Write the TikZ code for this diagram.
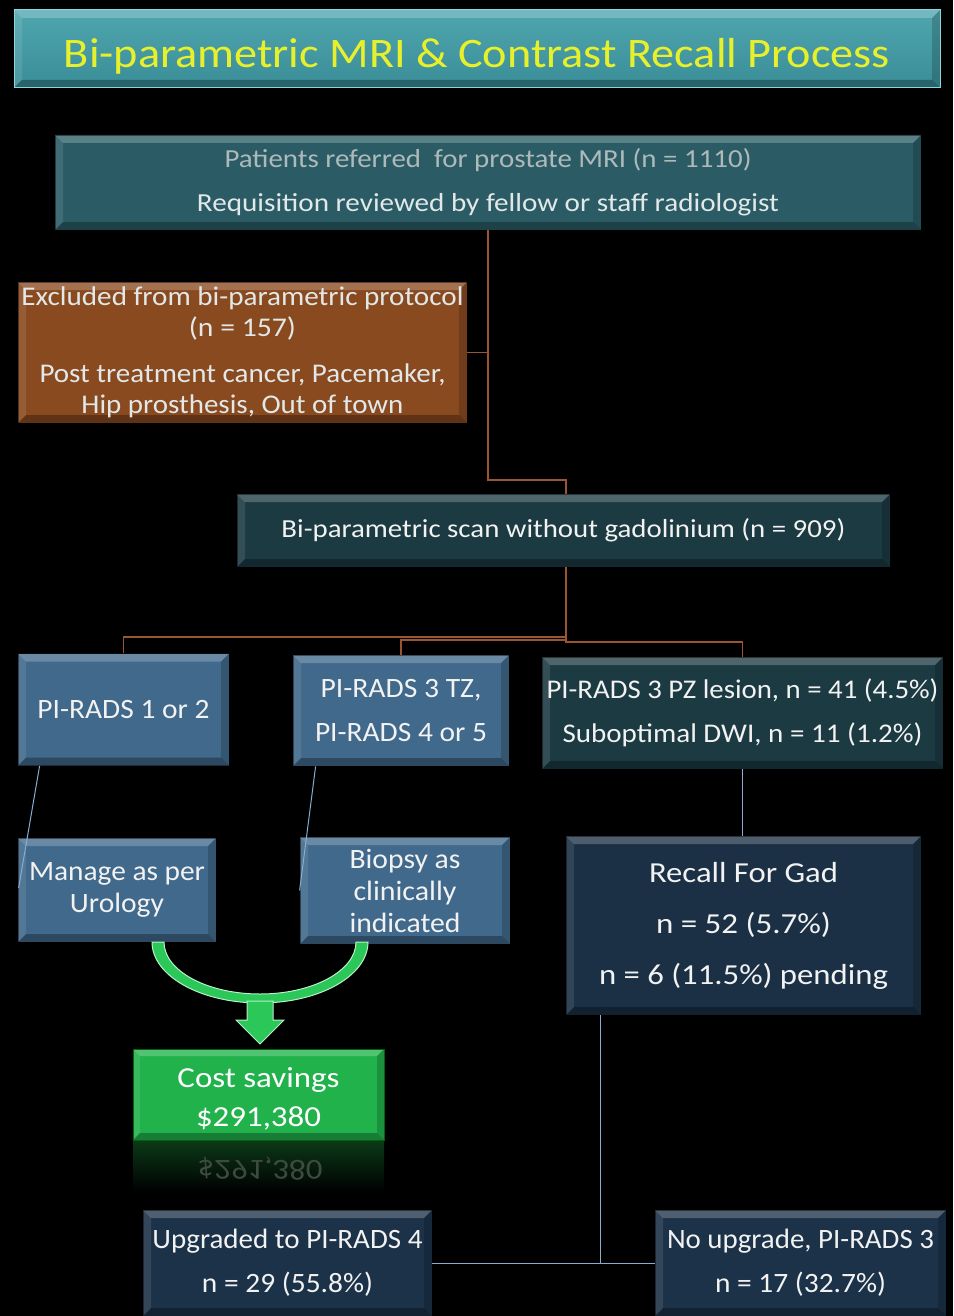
\documentclass[tikz,border=0pt]{standalone}
\usepackage{fontspec}
\usepackage{graphicx}
\setmainfont{Carlito}
\usetikzlibrary{calc}
\definecolor{titc}{HTML}{3A8D96}
\definecolor{titt}{HTML}{4FA6AF}
\definecolor{titb}{HTML}{8CD6DE}
\definecolor{ylw}{HTML}{E8F02C}
\definecolor{topc}{HTML}{2B5C66}
\definecolor{exclc}{HTML}{8A4A20}
\definecolor{bipc}{HTML}{1C3A42}
\definecolor{bluec}{HTML}{40698B}
\definecolor{recc}{HTML}{1B3045}
\definecolor{botc}{HTML}{1C3248}
\definecolor{oline}{HTML}{9B5530}
\definecolor{bline}{HTML}{86ADD2}
\definecolor{greenbox}{HTML}{22B24C}
\definecolor{greenarr}{HTML}{2BC758}
\definecolor{greenedge}{HTML}{B6F2C6}
\definecolor{txt}{HTML}{F2F2F2}
\definecolor{greyA}{HTML}{AEB9BA}
\definecolor{greyB}{HTML}{E2E8E8}
\definecolor{refc}{HTML}{3E4A40}
\definecolor{refg}{HTML}{0B3A18}
\newcommand\fitw[2]{\resizebox{#1pt}{\height}{#2}}
\tikzset{
  bevel/.style={path picture={
    \fill[white,opacity=.22] (path picture bounding box.north west) -- (path picture bounding box.north east) -- ([shift={(-#1,-#1)}]path picture bounding box.north east) -- ([shift={(#1,-#1)}]path picture bounding box.north west) -- cycle;
    \fill[white,opacity=.10] (path picture bounding box.north west) -- ([shift={(#1,-#1)}]path picture bounding box.north west) -- ([shift={(#1,#1)}]path picture bounding box.south west) -- (path picture bounding box.south west) -- cycle;
    \fill[black,opacity=.30] (path picture bounding box.south west) -- ([shift={(#1,#1)}]path picture bounding box.south west) -- ([shift={(-#1,#1)}]path picture bounding box.south east) -- (path picture bounding box.south east) -- cycle;
    \fill[black,opacity=.18] (path picture bounding box.south east) -- ([shift={(-#1,#1)}]path picture bounding box.south east) -- ([shift={(-#1,-#1)}]path picture bounding box.north east) -- (path picture bounding box.north east) -- cycle;
  }},
  bevel/.default=8pt,
  box/.style={rectangle, inner sep=0pt, align=center, text=txt, bevel, draw=black, draw opacity=.45, line width=.8pt},
  olink/.style={draw=oline, line width=1.2pt},
  blink/.style={draw=bline, line width=1pt},
  f25/.style={font=\fontsize{26}{44}\selectfont},
  f26/.style={font=\fontsize{27}{31}\selectfont},
  f27/.style={font=\fontsize{28}{44}\selectfont},
}
\begin{document}
\begin{tikzpicture}[x=1pt,y=-1pt]
\fill[black] (0,0) rectangle (953,1316);
\useasboundingbox (0,0) rectangle (953,1316);

% title
\node[box, top color=titt, bottom color=titc, draw=titb, draw opacity=1, line width=1pt,
  minimum width=926pt, minimum height=78pt, text=ylw, font=\fontsize{42}{48}\selectfont,
  text height=38pt, text depth=0pt]
  (title) at (477,49) {\fitw{826}{Bi-parametric MRI \& Contrast Recall Process}};

% top box
\node[box, fill=topc, minimum width=866pt, minimum height=95pt, f25]
  (top) at (488,182.5) {\textcolor{greyA}{\fitw{527}{Patients referred\ \ for prostate MRI (n = 1110)}}\\
  \textcolor{greyB}{\fitw{582}{Requisition reviewed by fellow or staff radiologist}}};

% excluded
\node[box, fill=exclc, minimum width=449pt, minimum height=141pt, f26, text=greyB]
  (excl) at (242.5,352.5) {\fitw{442}{Excluded from bi-parametric protocol}\\
  \fitw{107}{(n = 157)}\\[15pt]
  \fitw{406}{Post treatment cancer, Pacemaker,}\\
  \fitw{322}{Hip prosthesis, Out of town}};

% bi-parametric
\node[box, fill=bipc, minimum width=653pt, minimum height=73pt, f25]
  (bip) at (563.5,530.5) {\fitw{564}{Bi-parametric scan without gadolinium (n = 909)}};

% second row
\node[box, fill=bluec, minimum width=211pt, minimum height=112pt, f27]
  (pr12) at (123.5,709.5) {\fitw{172}{PI-RADS 1 or 2}};
\node[box, fill=bluec, minimum width=216pt, minimum height=111pt, f27]
  (pr3tz) at (401,710.5) {\fitw{161}{PI-RADS 3 TZ,}\\\fitw{172}{PI-RADS 4 or 5}};
\node[box, fill=bipc, minimum width=401pt, minimum height=112pt, font=\fontsize{27}{44}\selectfont]
  (pz) at (742.5,713) {\fitw{392}{PI-RADS 3 PZ lesion, n = 41 (4.5\%)}\\\fitw{360}{Suboptimal DWI, n = 11 (1.2\%)}};

% third row
\node[box, fill=bluec, minimum width=198pt, minimum height=104pt, font=\fontsize{28}{32}\selectfont]
  (manage) at (117,890) {\fitw{176}{Manage as per}\\\fitw{94}{Urology}};
\node[box, fill=bluec, minimum width=210pt, minimum height=107pt, font=\fontsize{28}{32}\selectfont]
  (biopsy) at (405,890.5) {\fitw{111}{Biopsy as}\\\fitw{103}{clinically}\\\fitw{111}{indicated}};
\node[box, fill=recc, minimum width=355pt, minimum height=179pt, font=\fontsize{29}{51}\selectfont]
  (recall) at (743.5,925.5) {\fitw{189}{Recall For Gad}\\\fitw{175}{n = 52 (5.7\%)}\\\fitw{289}{n = 6 (11.5\%) pending}};

% cost savings + reflection
\shade[top color=refg, bottom color=black] (133,1140) rectangle (384,1192);
\node[text=refc, font=\fontsize{29}{34}\selectfont, inner sep=0pt]
  (refl) at (260,1169) {\scalebox{1}[-1]{\fitw{125}{\$291,380}}};
\node[box, fill=greenbox, draw=green!40!black, draw opacity=1, minimum width=251pt, minimum height=91pt,
  font=\fontsize{29}{39}\selectfont, text=white, bevel=7pt]
  (cost) at (258.5,1094.5) {\rule{0pt}{29pt}\fitw{162}{Cost savings}\\\fitw{125}{\$291,380}};

% bottom row
\node[box, fill=botc, minimum width=289pt, minimum height=106pt, f27]
  (upg) at (287.5,1263) {\fitw{270}{Upgraded to PI-RADS 4}\\\fitw{171}{n = 29 (55.8\%)}};
\node[box, fill=botc, minimum width=291pt, minimum height=106pt, f27]
  (noup) at (800.5,1263) {\fitw{267}{No upgrade, PI-RADS 3}\\\fitw{171}{n = 17 (32.7\%)}};

% orange connectors
\draw[olink] (top.south) -- (top.south |- 0,480) -| ([xshift=2.5pt]bip.north);
\draw[olink] (excl.east) -- (excl.east -| top.south);
\coordinate (bo) at ([xshift=2.5pt]bip.south);
\draw[olink] (bo) -- (bo |- 0,637) -| (pr12.north);
\draw[olink] (bo) |- (pr3tz.north |- 0,640) -- (pr3tz.north);
\draw[olink] (bo) |- (pz.north |- 0,642) -- (pz.north);

% blue connectors
\draw[blink] ([xshift=22pt]pr12.south west) -- ([shift={(1pt,2pt)}]manage.west);
\draw[blink] ([xshift=23pt]pr3tz.south west) -- (biopsy.west);
\draw[blink] (pz.south) -- (pz.south |- recall.north);
\coordinate (ro) at ([xshift=35pt]recall.south west);
\draw[blink] (ro) -- (ro |- upg.east);
\draw[blink] (upg.east) -- (noup.west);

% green merging arrow
\fill[greenarr, draw=greenedge, line width=1pt]
  (152,942) .. controls (152,975.7) and (200.4,1003) .. (260,1003)
  .. controls (319.6,1003) and (368,975.7) .. (368,942)
  -- (356,942)
  .. controls (356,970.7) and (313,994) .. (260,994)
  .. controls (207,994) and (164,970.7) .. (164,942) -- cycle;
\fill[greenarr, draw=greenedge, line width=1pt]
  (247,1001) -- (273,1001) -- (273,1020) -- (284,1020) -- (260,1044) -- (236,1020) -- (247,1020) -- cycle;
\end{tikzpicture}
\end{document}
